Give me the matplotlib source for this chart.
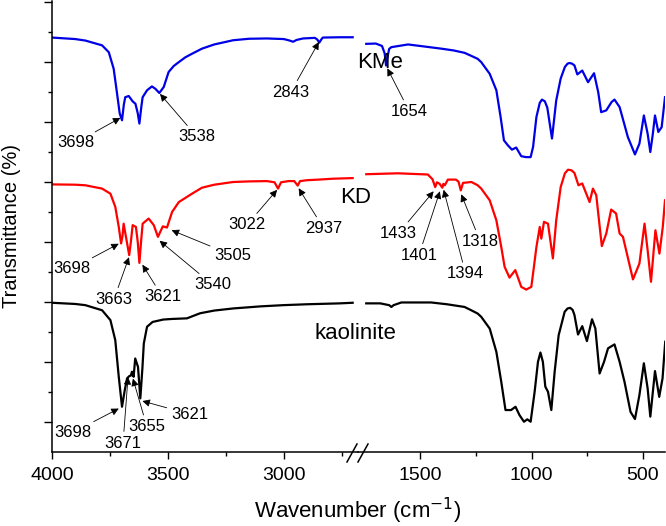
import matplotlib
matplotlib.use('Agg')
import matplotlib.pyplot as plt
from matplotlib.lines import Line2D

plt.rcParams['font.family'] = ['Liberation Sans', 'DejaVu Sans']

# KMe (blue), high wavenumber part 4000-2700
kme_hi_wn = [4000, 3900, 3856, 3784, 3755, 3734, 3720, 3708, 3698, 3690, 3684, 3669, 3652, 3640, 3630, 3623,
             3615, 3609, 3590, 3569, 3554, 3537, 3518, 3497, 3475, 3453, 3425, 3396, 3353, 3300, 3219, 3150, 3073,
             3000, 2975, 2960, 2945, 2917, 2866, 2855, 2847, 2838, 2832, 2758, 2703]
kme_hi_t = [138.3, 137.8, 137.3, 135.7, 133.4, 127.9, 120, 113, 110.7, 116, 118.4, 118.8, 117, 116.2, 113, 109.6,
            115, 118.4, 120.7, 122, 121.2, 119.8, 121.8, 126.8, 128.8, 130.1, 131.7, 132.9, 134.6, 136, 137.4, 137.9,
            138, 137.8, 137.3, 136.9, 137.5, 138, 138.2, 137.6, 136.6, 137.7, 138.3, 138.4, 138.4]
# KMe, low wavenumber part 1750-400
kme_lo_wn = [1743, 1700, 1672, 1660, 1654, 1648, 1640, 1630, 1555, 1480, 1406, 1350, 1301, 1271, 1242, 1226,
             1188, 1158, 1139, 1124, 1106, 1088, 1069, 1046, 1024, 1004, 993, 978, 963, 953, 940, 929, 908, 889,
             869, 850, 838, 829, 818, 807, 794, 772, 746, 719, 700, 687, 664, 640, 627, 604, 567, 535, 515, 495,
             478, 466, 455, 445, 430, 415, 400]
kme_lo_t = [136.2, 136.3, 135.5, 133, 129, 131.5, 134.5, 135.1, 136, 135.3, 134.6, 134, 133.2, 132.2, 131.2, 130.1,
            126.2, 120.7, 111.8, 104, 102.3, 100.9, 101.6, 98.7, 98.4, 98.4, 101.8, 111.8, 116.5, 117.6, 117, 114.9,
            104.6, 117.3, 124.6, 128.5, 129.6, 129.8, 129.6, 129, 126, 127.3, 123.4, 126.4, 120, 113.4, 114, 116.8,
            117.6, 115.1, 105.1, 99.3, 102.9, 112.3, 106.2, 100.1, 106, 112.3, 106.8, 108.4, 118.4]

# KD (red)
kd_hi_wn = [4000, 3900, 3856, 3784, 3748, 3727, 3712, 3702, 3696, 3691, 3681, 3667, 3660, 3652, 3638, 3630, 3623,
            3616, 3609, 3583, 3561, 3543, 3522, 3504, 3482, 3453, 3396, 3353, 3300, 3219, 3150, 3073, 3040, 3025,
            3012, 2980, 2955, 2940, 2930, 2900, 2850, 2788, 2703]
kd_hi_t = [89.3, 89.2, 89, 87.9, 86.2, 81.8, 75.1, 69.6, 72, 76.2, 71.8, 65.7, 70, 75.7, 75.1, 70, 63.1,
           70, 76.2, 77.9, 75.7, 71.8, 75.3, 74.9, 80.1, 83.4, 86.2, 88.2, 89.2, 90.1, 90.3, 90.4, 90, 87.9,
           90, 90.4, 90.4, 88.9, 90.4, 90.7, 90.9, 91.2, 91.4]
kd_lo_wn = [1743, 1600, 1466, 1445, 1433, 1425, 1413, 1401, 1396, 1390, 1376, 1340, 1328, 1318, 1308, 1270, 1242,
            1226, 1188, 1158, 1136, 1121, 1099, 1073, 1046, 1024, 1001, 993, 978, 963, 956, 944, 926, 904, 889,
            869, 850, 836, 820, 807, 789, 772, 739, 724, 709, 684, 664, 642, 620, 604, 589, 544, 515, 492, 478,
            463, 443, 425, 410, 400]
kd_lo_t = [92.7, 93, 92.6, 91, 88.4, 90, 89.5, 88.2, 89.5, 89, 90.9, 90.9, 90.2, 87.3, 89.8, 90.1, 89,
           87.9, 84, 77.3, 68.4, 61.8, 58.2, 60.7, 55.1, 54.2, 55.1, 59.6, 68.4, 75.1, 71.2, 76.8, 76.2, 64.6, 77.3,
           88.4, 93, 94.2, 94, 93.1, 89, 89.6, 83.4, 87.9, 85.7, 68.7, 72.9, 80.9, 79.6, 72.9, 71.8, 57.6, 62.9,
           76.2, 67.3, 56.8, 74, 66.2, 75.1, 84]

# kaolinite (black)
kao_hi_wn = [4000, 3900, 3856, 3784, 3748, 3727, 3712, 3698, 3686, 3676, 3667, 3660, 3655, 3648, 3641, 3629,
             3619, 3610, 3604, 3590, 3566, 3520, 3482, 3418, 3361, 3300, 3219, 3100, 3003, 2900, 2758, 2703]
kao_hi_t = [49.8, 49.4, 49, 47.3, 44, 37.3, 25.1, 15.1, 20.7, 24.6, 25.3, 25.5, 26.8, 25.1, 31.2, 28.4,
            17.9, 28, 36.2, 41.8, 43.4, 44.2, 44.4, 44.6, 46.3, 47.2, 47.9, 48.6, 49, 49.3, 49.6, 49.8]
kao_lo_wn = [1743, 1680, 1640, 1630, 1620, 1585, 1451, 1380, 1301, 1271, 1242, 1226, 1188, 1158, 1136, 1117,
             1092, 1072, 1054, 1034, 1019, 1004, 986, 971, 960, 949, 938, 926, 911, 896, 878, 851, 838, 826, 815,
             807, 791, 772, 751, 728, 713, 694, 674, 656, 627, 604, 582, 555, 535, 515, 495, 478, 466, 445, 426,
             411, 399]
kao_lo_t = [49.6, 49.6, 49, 48.4, 49, 49.9, 49.9, 49.3, 48.4, 47.3, 46.2, 45.1, 41.2, 33.4, 23.4, 14,
            14, 15.1, 12.3, 10.1, 10.9, 10.1, 20.1, 30.1, 33.2, 30.1, 21.8, 20.1, 14, 26.8, 39, 46.8, 47.9, 48.1,
            47.4, 45.7, 39.2, 42, 37, 44.3, 41.2, 26.2, 30.1, 34.6, 35.9, 30.1, 23.4, 13.4, 11, 19, 29.6, 21.2, 11.8,
            27, 18.4, 24.6, 36.8]

# peak labels: (text, axis, tip wavenumber, tip value, text offset x px, offset y px)
peak_labels = [
    ('3698', 0, 3705, 111.5, -45, -25), ('3538', 0, 3534, 119.5, 37, -43),
    ('2843', 0, 2849, 136.8, -28, -50), ('1654', 1, 1648, 128.0, 22, -43),
    ('3698', 0, 3712, 69.5, -47, -25), ('3663', 0, 3668, 65.0, -15, -42),
    ('3621', 0, 3610, 62.5, 20, -32), ('3540', 0, 3536, 70.5, 53, -44),
    ('3505', 0, 3484, 74.0, 61, -25), ('3022', 0, 3029, 87.5, -30, -35),
    ('2937', 0, 2936, 88.0, 25, -40), ('1433', 1, 1440, 87.0, -35, -42),
    ('1401', 1, 1412, 87.0, -21, -64), ('1394', 1, 1395, 87.5, 22, -84),
    ('1318', 1, 1316, 86.0, 19, -47),
    ('3698', 0, 3712, 14.5, -46, -24), ('3671', 0, 3672, 25.0, -5, -66),
    ('3655', 0, 3651, 24.5, 14, -48), ('3621', 0, 3610, 17.0, 47, -13),
]

fig = plt.figure(figsize=(6.66, 5.26), dpi=100)
ax1 = fig.add_axes([52/666, 74/526, 306/666, 451/526])
ax2 = fig.add_axes([358/666, 74/526, 307/666, 451/526], sharey=ax1)

lw = 1.6
for ax in (ax1, ax2):
    ax.patch.set_visible(False)
    ax.plot(kme_hi_wn, kme_hi_t, color='#0000e6', lw=lw)
    ax.plot(kme_lo_wn, kme_lo_t, color='#0000e6', lw=lw)
    ax.plot(kd_hi_wn, kd_hi_t, color='#ff0000', lw=lw)
    ax.plot(kd_lo_wn, kd_lo_t, color='#ff0000', lw=lw)
    ax.plot(kao_hi_wn, kao_hi_t, color='black', lw=lw)
    ax.plot(kao_lo_wn, kao_lo_t, color='black', lw=lw)
    ax.spines['top'].set_visible(False)
    ax.spines['right'].set_visible(False)
    ax.spines['bottom'].set_linewidth(1.1)
    ax.tick_params(axis='x', which='major', direction='out', length=5, width=1, labelsize=14, pad=6)
    ax.tick_params(axis='x', which='minor', direction='out', length=3, width=1)

ax1.set_xlim(4000, 2680)
ax2.set_xlim(1780, 400)
ax1.set_ylim(0, 150.5)
ax1.set_xticks([4000, 3500, 3000])
ax1.set_xticks([3750, 3250, 2750], minor=True)
ax2.set_xticks([1500, 1000, 500])
ax2.set_xticks([1250, 750], minor=True)

ax1.set_yticks([10, 30, 50, 70, 90, 110, 130, 150])
ax1.set_yticks([20, 40, 60, 80, 100, 120, 140], minor=True)
ax1.set_yticklabels([])
ax1.spines['left'].set_linewidth(1.1)
ax1.tick_params(axis='y', which='major', direction='out', length=6, width=1)
ax1.tick_params(axis='y', which='minor', direction='out', length=3, width=1)
ax2.spines['left'].set_visible(False)
ax2.tick_params(axis='y', which='both', left=False, labelleft=False)

axes = [ax1, ax2]
for txt, ai, wn, t, dx, dy in peak_labels:
    axes[ai].annotate(txt, xy=(wn, t), xytext=(dx, dy), textcoords='offset pixels',
                      ha='center', va='center', fontsize=12, annotation_clip=False,
                      arrowprops=dict(arrowstyle='-|>', color='black', lw=0.6,
                                      mutation_scale=11, shrinkA=1, shrinkB=0))

ax2.text(1681, 130, 'KMe', fontsize=16, ha='center', va='center')
ax1.text(2689, 85, 'KD', fontsize=16, ha='center', va='center', clip_on=False)
ax1.text(2689, 39.7, 'kaolinite', fontsize=16, ha='center', va='center', clip_on=False)

# axis break marks
for x0 in (347, 358):
    fig.add_artist(Line2D([x0/666, (x0 + 10)/666], [(526 - 462)/526, (526 - 444)/526],
                          transform=fig.transFigure, color='black', lw=1.1))

fig.text(358/666, 1 - 511/526, 'Wavenumber (cm$^{-1}$)', fontsize=16, ha='center', va='center')
fig.text(12/666, 1 - 226/526, 'Transmittance (%)', fontsize=14.5, ha='center', va='center', rotation=90)

fig.savefig('out.png', dpi=100)
